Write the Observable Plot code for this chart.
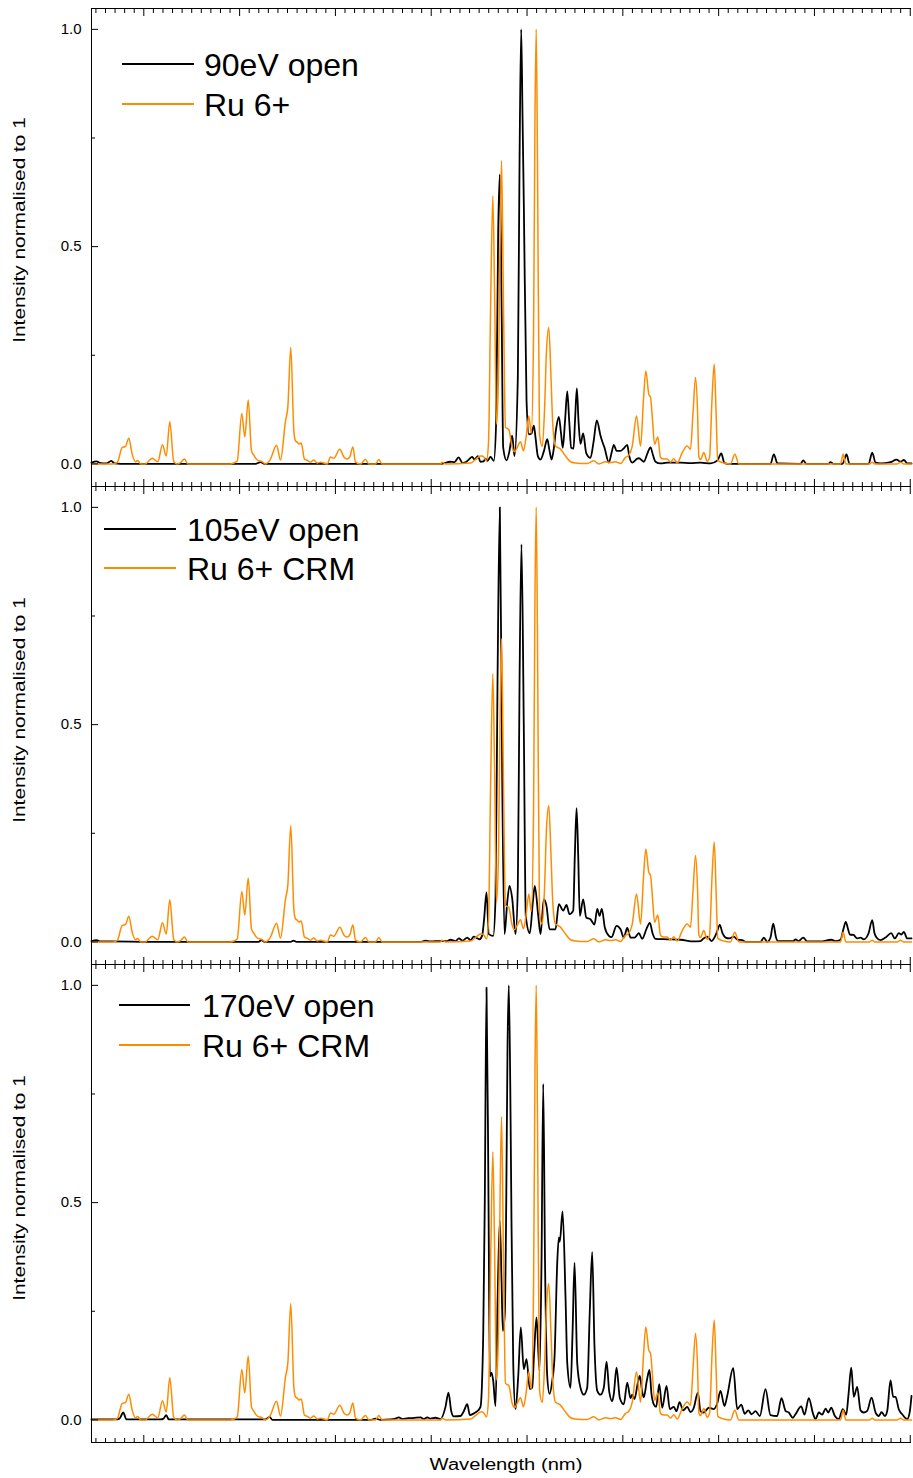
<!DOCTYPE html>
<html><head><meta charset="utf-8">
<script src="https://cdn.jsdelivr.net/npm/d3@7"></script>
<script src="https://cdn.jsdelivr.net/npm/@observablehq/plot@0.6"></script>
<style>
body{margin:0;background:#fff;}
#chart{position:relative;width:913px;height:1478px;font-family:"Liberation Sans",Arial,sans-serif;overflow:hidden;background:#fff;}
.panel{position:absolute;left:0;}
.leg-line{position:absolute;}
.leg-text{position:absolute;font-size:32px;line-height:32px;white-space:nowrap;color:#000;}
.ylab{position:absolute;font-size:16px;line-height:16px;white-space:nowrap;color:#000;transform:translate(-50%,-50%) rotate(-90deg) scaleX(1.3);}
.xlab{position:absolute;font-size:16px;line-height:16px;white-space:nowrap;color:#000;transform:translate(-50%,0) scaleX(1.26);}
</style></head><body><div id="chart"></div>
<script>
// Ru 6+ CRM reference spectrum [wavelength, normalised intensity]
const ruCRM = [[9.454,0],[9.673,0],[9.722,0.003],[9.775,0.038],[9.809,0.040],[9.843,0.059],[9.879,0.022],[9.913,0.005],[9.937,0.008],[9.966,0],[10.018,0],[10.049,0.006],[10.088,0.013],[10.146,0.005],[10.195,0.044],[10.234,0.018],[10.271,0.097],[10.313,0.005],[10.349,0],[10.383,0.003],[10.425,0.011],[10.459,0],[10.905,0],[10.939,0.002],[10.975,0.007],[11.023,0.116],[11.054,0.062],[11.090,0.147],[11.124,0.030],[11.148,0.020],[11.184,0.009],[11.236,0.005],[11.270,0],[11.322,0.011],[11.385,0.043],[11.427,0.009],[11.479,0.099],[11.503,0.13],[11.534,0.268],[11.566,0.076],[11.583,0.053],[11.601,0.050],[11.618,0.046],[11.643,0.048],[11.677,0.011],[11.706,0.008],[11.740,0.004],[11.774,0.009],[11.810,0.002],[11.844,0.004],[11.914,0],[11.949,0.016],[11.983,0.013],[12.046,0.034],[12.088,0.016],[12.123,0.011],[12.150,0.016],[12.182,0.039],[12.210,0.004],[12.262,0],[12.314,0.010],[12.349,0],[12.418,0],[12.453,0.010],[12.488,0],[13.097,0],[13.115,0.004],[13.149,0],[13.410,0.002],[13.462,0.010],[13.514,0.018],[13.532,0.018],[13.549,0.016],[13.577,0.007],[13.598,0.05],[13.619,0.35],[13.643,0.617],[13.661,0.40],[13.681,0.091],[13.702,0.20],[13.718,0.50],[13.734,0.698],[13.755,0.35],[13.775,0.084],[13.810,0.079],[13.845,0.038],[13.869,0.028],[13.901,0.040],[13.932,0.051],[13.963,0.030],[13.989,0.060],[14.019,0.110],[14.044,0.070],[14.068,0.30],[14.083,0.80],[14.096,1.0],[14.109,0.70],[14.130,0.069],[14.159,0.040],[14.182,0.12],[14.203,0.26],[14.227,0.314],[14.250,0.20],[14.269,0.090],[14.297,0.041],[14.349,0.034],[14.402,0.018],[14.454,0.005],[14.506,0.002],[14.558,0.001],[14.628,0.001],[14.697,0.007],[14.749,0],[14.819,0.005],[14.871,0.003],[14.924,0.005],[14.976,0.001],[15.028,0.015],[15.062,0.020],[15.098,0.041],[15.143,0.110],[15.185,0.041],[15.216,0.15],[15.240,0.214],[15.271,0.160],[15.289,0.153],[15.310,0.10],[15.331,0.045],[15.365,0.062],[15.393,0.015],[15.428,0.011],[15.463,0.011],[15.498,0.004],[15.532,0.012],[15.568,0.002],[15.620,0.026],[15.672,0.041],[15.706,0.034],[15.733,0.12],[15.759,0.199],[15.780,0.12],[15.793,0.016],[15.811,0.010],[15.845,0.026],[15.881,0.006],[15.905,0.015],[15.931,0.15],[15.954,0.23],[15.973,0.12],[15.991,0.008],[16.054,0.002],[16.124,0],[16.169,0.022],[16.211,0],[17.272,0],[17.300,0.022],[17.327,0],[17.575,0],[17.603,0.004],[17.627,0],[17.867,0],[17.898,0.004],[17.930,0],[18.013,0]];

// Measured spectra [wavelength, normalised intensity]
const open90 = [[9.454,0.003],[9.506,0.006],[9.548,0.002],[9.611,0.001],[9.660,0.007],[9.694,0.001],[9.757,0],[11.166,0],[11.218,0.004],[11.260,0],[13.097,0],[13.201,0.005],[13.243,0.004],[13.285,0.015],[13.327,0.002],[13.368,0.005],[13.392,0.010],[13.428,0.016],[13.452,0.010],[13.488,0.018],[13.514,0.005],[13.546,0.006],[13.567,0.012],[13.588,0.007],[13.619,0.016],[13.653,0.007],[13.678,0.10],[13.699,0.537],[13.716,0.666],[13.734,0.376],[13.751,0.038],[13.786,0.008],[13.817,0.030],[13.845,0.065],[13.869,0.018],[13.904,0.20],[13.922,0.70],[13.939,1.0],[13.953,0.80],[13.966,0.606],[13.995,0.145],[14.019,0.068],[14.047,0.070],[14.071,0.088],[14.089,0.060],[14.113,0.018],[14.141,0.010],[14.177,0.030],[14.211,0.057],[14.235,0.030],[14.256,0.010],[14.276,0.030],[14.303,0.080],[14.332,0.108],[14.355,0.070],[14.373,0.037],[14.397,0.10],[14.420,0.167],[14.440,0.10],[14.461,0.037],[14.485,0.035],[14.501,0.10],[14.520,0.174],[14.537,0.10],[14.558,0.046],[14.586,0.070],[14.618,0.025],[14.662,0.014],[14.694,0.050],[14.728,0.10],[14.767,0.065],[14.788,0.050],[14.809,0.037],[14.854,0.003],[14.882,0.025],[14.906,0.044],[14.934,0.030],[14.976,0.030],[15.007,0.035],[15.046,0.044],[15.065,0.020],[15.098,0.003],[15.150,0.012],[15.167,0.013],[15.219,0.005],[15.258,0.025],[15.289,0.038],[15.315,0.020],[15.341,0.005],[15.393,0.001],[15.463,0.003],[15.602,0.003],[15.706,0.002],[15.811,0.003],[15.915,0.001],[15.988,0.008],[16.027,0.024],[16.061,0.002],[16.124,0],[16.541,0],[16.576,0.022],[16.615,0.001],[16.854,0],[16.883,0.008],[16.917,0],[17.147,0],[17.167,0.004],[17.199,0],[17.293,0],[17.335,0.022],[17.366,0],[17.565,0],[17.603,0.026],[17.638,0.003],[17.689,0.001],[17.794,0.004],[17.857,0.010],[17.898,0.005],[17.933,0.009],[17.971,0.001],[18.013,0.001]];

const open105 = [[9.454,0.002],[9.506,0.004],[9.548,0.001],[9.652,0.001],[10.070,0],[11.197,0],[11.229,0.004],[11.260,0],[11.531,0],[11.563,0.003],[11.594,0],[12.888,0],[12.940,0.003],[12.992,0.001],[13.097,0.002],[13.167,0.002],[13.201,0.005],[13.254,0.002],[13.288,0.008],[13.327,0.003],[13.376,0.010],[13.410,0.004],[13.444,0.012],[13.483,0.008],[13.504,0.006],[13.532,0.015],[13.551,0.050],[13.577,0.114],[13.601,0.018],[13.647,0.014],[13.671,0.10],[13.692,0.60],[13.716,1.0],[13.741,0.371],[13.765,0.018],[13.793,0.090],[13.817,0.129],[13.845,0.10],[13.880,0.018],[13.904,0.13],[13.922,0.60],[13.942,0.915],[13.966,0.50],[13.987,0.060],[14.029,0.020],[14.060,0.090],[14.081,0.129],[14.117,0.060],[14.141,0.018],[14.175,0.098],[14.203,0.083],[14.235,0.029],[14.297,0.029],[14.332,0.087],[14.378,0.072],[14.412,0.085],[14.443,0.064],[14.482,0.072],[14.499,0.20],[14.517,0.308],[14.534,0.20],[14.551,0.060],[14.586,0.098],[14.618,0.056],[14.662,0.052],[14.704,0.040],[14.733,0.076],[14.757,0.060],[14.781,0.076],[14.812,0.033],[14.854,0.014],[14.882,0.011],[14.934,0.037],[14.976,0.029],[15.010,0.010],[15.046,0.032],[15.080,0.010],[15.122,0.010],[15.167,0.020],[15.202,0.007],[15.247,0.030],[15.282,0.044],[15.310,0.020],[15.341,0.007],[15.466,0.006],[15.602,0.005],[15.741,0.001],[15.811,0.002],[15.842,0.008],[15.881,0.012],[15.926,0.002],[15.978,0.020],[16.012,0.039],[16.040,0.020],[16.072,0.010],[16.113,0.008],[16.158,0.012],[16.197,0.005],[16.246,0.004],[16.281,0],[16.437,0],[16.472,0.010],[16.507,0],[16.541,0.010],[16.570,0.042],[16.599,0.010],[16.618,0.002],[16.781,0.002],[16.802,0.006],[16.834,0.002],[16.883,0.010],[16.925,0.001],[17.063,0.001],[17.175,0.005],[17.220,0.002],[17.272,0.005],[17.303,0.030],[17.327,0.046],[17.350,0.030],[17.369,0.017],[17.408,0.016],[17.446,0.008],[17.481,0.010],[17.515,0.006],[17.565,0.020],[17.603,0.050],[17.627,0.020],[17.648,0.010],[17.689,0.004],[17.742,0.010],[17.801,0.020],[17.839,0.008],[17.881,0.020],[17.906,0.017],[17.933,0.023],[17.968,0.008],[18.013,0.008]];

const open170 = [[9.454,0.001],[9.705,0.001],[9.746,0.003],[9.785,0.017],[9.819,0.001],[10.174,0.001],[10.206,0.003],[10.234,0.011],[10.261,0.001],[11.270,0.001],[11.312,0.007],[11.343,0],[12.366,0],[12.418,0.003],[12.471,0],[12.575,0.001],[12.627,0.003],[12.662,0.006],[12.700,0.002],[12.763,0.004],[12.805,0.004],[12.888,0.006],[12.923,0.002],[12.958,0.006],[12.992,0.003],[13.045,0.005],[13.097,0.002],[13.149,0.030],[13.180,0.063],[13.209,0.020],[13.236,0.008],[13.306,0.009],[13.340,0.020],[13.376,0.036],[13.403,0.011],[13.445,0.015],[13.480,0.020],[13.514,0.030],[13.543,0.20],[13.559,0.50],[13.577,0.995],[13.598,0.50],[13.612,0.10],[13.629,0.109],[13.647,0.090],[13.671,0.032],[13.695,0.30],[13.716,0.458],[13.734,0.32],[13.747,0.205],[13.768,0.244],[13.783,0.50],[13.796,0.85],[13.810,1.0],[13.828,0.70],[13.838,0.45],[13.856,0.13],[13.880,0.025],[13.908,0.10],[13.935,0.213],[13.966,0.117],[13.995,0.14],[14.029,0.071],[14.054,0.074],[14.073,0.15],[14.099,0.236],[14.130,0.113],[14.151,0.36],[14.169,0.773],[14.188,0.36],[14.211,0.10],[14.235,0.060],[14.263,0.090],[14.287,0.144],[14.315,0.36],[14.332,0.42],[14.342,0.41],[14.371,0.48],[14.402,0.28],[14.420,0.13],[14.454,0.074],[14.475,0.20],[14.496,0.362],[14.524,0.13],[14.558,0.074],[14.593,0.058],[14.628,0.074],[14.655,0.25],[14.680,0.386],[14.704,0.17],[14.733,0.067],[14.767,0.058],[14.801,0.074],[14.830,0.134],[14.858,0.065],[14.889,0.043],[14.906,0.060],[14.934,0.12],[14.969,0.050],[15.010,0.036],[15.046,0.086],[15.080,0.050],[15.098,0.058],[15.122,0.048],[15.156,0.085],[15.177,0.101],[15.202,0.065],[15.219,0.052],[15.250,0.090],[15.278,0.115],[15.299,0.060],[15.323,0.036],[15.348,0.030],[15.380,0.082],[15.411,0.028],[15.456,0.078],[15.490,0.025],[15.532,0.030],[15.560,0.020],[15.592,0.041],[15.630,0.022],[15.672,0.030],[15.706,0.018],[15.741,0.028],[15.783,0.063],[15.811,0.020],[15.845,0.017],[15.897,0.028],[15.950,0.025],[15.988,0.040],[16.019,0.067],[16.061,0.032],[16.089,0.055],[16.152,0.119],[16.194,0.025],[16.236,0.035],[16.273,0.014],[16.309,0.022],[16.343,0.013],[16.385,0.020],[16.430,0.009],[16.489,0.071],[16.541,0.011],[16.611,0.009],[16.656,0.050],[16.698,0.021],[16.732,0.017],[16.774,0.005],[16.802,0.013],[16.862,0.031],[16.896,0.012],[16.941,0.050],[16.987,0.013],[17.011,0.002],[17.046,0.017],[17.081,0.012],[17.116,0.026],[17.144,0.017],[17.175,0.028],[17.213,0.009],[17.254,0.002],[17.296,0.025],[17.332,0.012],[17.356,0.060],[17.384,0.120],[17.411,0.053],[17.446,0.076],[17.481,0.022],[17.515,0.017],[17.551,0.021],[17.596,0.051],[17.638,0.017],[17.672,0.009],[17.700,0.018],[17.735,0.009],[17.760,0.021],[17.794,0.091],[17.822,0.053],[17.846,0.053],[17.881,0.024],[17.916,0.013],[17.968,0.002],[17.992,0.015],[18.013,0.055]];

const measuredSeries = [open90, open105, open170];
const measuredNames = ["90eV open", "105eV open", "170eV open"];
const referenceNames = ["Ru 6+", "Ru 6+ CRM", "Ru 6+ CRM"];
const xMajorTicks = [10, 11, 12, 13, 14, 15, 16, 17, 18];
const xMinorTicks = d3.range(95, 181).filter(d => d % 10 !== 0).map(d => d / 10);
const yMajorTicks = [0, 0.5, 1.0];
const yMinorTicks = [0.25, 0.75];
const yTickLabels = ["0.0", "0.5", "1.0"];

const X_DOMAIN = [9.454, 18.013];
const Y_DOMAIN = [-0.052, 1.048];
const ORANGE = "#ff8c00";
const W = 913, FRAME_H = 478, PAD = 8;
const frameTops = [8, 486, 964];
const legendPos = [
  {x1: 122, x2: 194, tx: 204, y: [64, 104]},
  {x1: 104, x2: 176, tx: 187, y: [529, 568]},
  {x1: 119, x2: 190, tx: 202, y: [1005, 1045]}
];
const yLabelCenters = [230, 710, 1188];

const chart = document.getElementById("chart");
const noText = () => "";

measuredSeries.forEach((series, i) => {
  const svg = Plot.plot({
    width: W, height: FRAME_H + 2 * PAD,
    marginTop: PAD, marginBottom: PAD, marginLeft: 91, marginRight: 2,
    style: {background: "transparent", overflow: "visible", fontFamily: "'Liberation Sans', Arial, sans-serif", color: "#000"},
    x: {domain: X_DOMAIN, axis: null},
    y: {domain: Y_DOMAIN, axis: null},
    marks: [
      Plot.line(series, {x: d => d[0], y: d => d[1], stroke: "#000", strokeWidth: 1.8, strokeLinejoin: "round", curve: "monotone-x"}),
      Plot.line(ruCRM, {x: d => d[0], y: d => d[1], stroke: ORANGE, strokeWidth: 1.5, strokeLinejoin: "round", curve: "monotone-x"}),
      Plot.ruleY([Y_DOMAIN[0], Y_DOMAIN[1]], {stroke: "#000", strokeWidth: 1}),
      Plot.ruleX([X_DOMAIN[0]], {stroke: "#000", strokeWidth: 1}),
      Plot.axisX(xMajorTicks, {anchor: "bottom", tickSize: -7, tickFormat: noText, label: null, strokeWidth: 1}),
      Plot.axisX(xMinorTicks, {anchor: "bottom", tickSize: -4, tickFormat: noText, label: null, strokeWidth: 1}),
      Plot.axisX(xMajorTicks, {anchor: "top", tickSize: -7, tickFormat: noText, label: null, strokeWidth: 1}),
      Plot.axisX(xMinorTicks, {anchor: "top", tickSize: -4, tickFormat: noText, label: null, strokeWidth: 1}),
      Plot.axisY(yMajorTicks, {anchor: "left", tickSize: -7, tickFormat: noText, label: null, strokeWidth: 1}),
      Plot.axisY(yMinorTicks, {anchor: "left", tickSize: -4, tickFormat: noText, label: null, strokeWidth: 1}),
      Plot.axisY(yMajorTicks, {anchor: "left", tickSize: 0, tickPadding: 10, tickFormat: (d, k) => yTickLabels[k], label: null, fontSize: 15})
    ]
  });
  svg.classList.add("panel");
  svg.style.top = (frameTops[i] - PAD) + "px";
  svg.style.position = "absolute";
  svg.style.left = "0px";
  chart.appendChild(svg);

  const lp = legendPos[i];
  [[measuredNames[i], "#000"], [referenceNames[i], ORANGE]].forEach(([name, color], k) => {
    const line = document.createElement("div");
    line.className = "leg-line";
    line.style.left = lp.x1 + "px";
    line.style.width = (lp.x2 - lp.x1) + "px";
    line.style.top = (lp.y[k] - 1) + "px";
    line.style.height = "2px";
    line.style.background = color;
    chart.appendChild(line);
    const t = document.createElement("div");
    t.className = "leg-text";
    t.textContent = name;
    t.style.left = lp.tx + "px";
    t.style.top = (lp.y[k] - 15) + "px";
    chart.appendChild(t);
  });

  const yl = document.createElement("div");
  yl.className = "ylab";
  yl.textContent = "Intensity normalised to 1";
  yl.style.left = "20px";
  yl.style.top = yLabelCenters[i] + "px";
  chart.appendChild(yl);
});

const xl = document.createElement("div");
xl.className = "xlab";
xl.textContent = "Wavelength (nm)";
xl.style.left = "506px";
xl.style.top = "1457px";
chart.appendChild(xl);
</script></body></html>
